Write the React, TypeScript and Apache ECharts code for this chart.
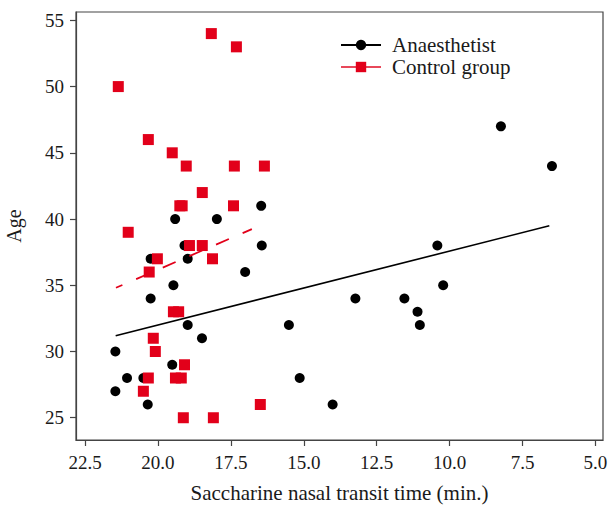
import React, { useEffect, useRef } from "react";
import * as echarts from "echarts";

// Anaesthetist group: [transit time (min.), age]
const anaesthetistX = [21.46, 21.46, 21.06, 20.5, 20.35, 20.25, 20.25, 19.47, 19.41, 19.51, 19.09, 18.98, 18.98, 18.49, 17.98, 17.01, 16.46, 16.44, 15.51, 15.14, 14.01, 13.23, 11.55, 11.1, 11.02, 10.42, 10.22, 8.24, 6.49];
const anaesthetistY = [30, 27, 28, 28, 26, 34, 37, 35, 40, 29, 38, 37, 32, 31, 40, 36, 41, 38, 32, 28, 26, 34, 34, 33, 32, 38, 35, 47, 44];

// Control group
const controlX = [18.17, 17.31, 21.36, 20.33, 19.51, 19.03, 17.38, 16.35, 18.48, 19.25, 19.17, 17.41, 21.02, 18.92, 18.48, 20.02, 18.13, 20.3, 19.47, 19.29, 20.16, 20.09, 19.09, 20.33, 19.4, 19.2, 20.5, 16.49, 19.13, 18.1];
const controlY = [54, 53, 50, 46, 45, 44, 44, 44, 42, 41, 41, 41, 39, 38, 38, 37, 37, 36, 33, 33, 31, 30, 29, 28, 28, 28, 27, 26, 25, 25];

// Fitted lines (end points)
const anaesthetistFitX = [21.45, 6.58];
const anaesthetistFitY = [31.19, 39.49];
const controlFitX = [21.44, 16.78];
const controlFitY = [34.81, 39.24];

const xTicks = [22.5, 20.0, 17.5, 15.0, 12.5, 10.0, 7.5, 5.0];
const yTicks = [25, 30, 35, 40, 45, 50, 55];

const SERIES_A = "Anaesthetist";
const SERIES_C = "Control group";

const RED = "#E2001A";
const FONT = "'Liberation Serif', 'Times New Roman', serif";
const AXIS_COLOR = "#444444";
const TEXT_COLOR = "#1a1a1a";

const zip = (xs: number[], ys: number[]) => xs.map((x, i) => [x, ys[i]]);

export default function App() {
  const ref = useRef<HTMLDivElement>(null);

  useEffect(() => {
    if (!ref.current) return;
    const chart = echarts.init(ref.current, undefined, { renderer: "svg" });
    chart.setOption({
      animation: false,
      backgroundColor: "#ffffff",
      textStyle: { fontFamily: FONT },
      grid: {
        left: 76,
        top: 12,
        right: 6,
        bottom: 66,
        containLabel: false,
        outerBoundsMode: "none",
        show: true,
        borderColor: AXIS_COLOR,
        borderWidth: 1.2,
      },
      legend: {
        orient: "vertical",
        left: 340,
        top: 34,
        padding: 0,
        itemGap: 0,
        itemWidth: 40,
        itemHeight: 13,
        selectedMode: false,
        textStyle: {
          fontFamily: FONT,
          fontSize: 21,
          color: TEXT_COLOR,
          lineHeight: 22,
          padding: [0, 0, 0, 6],
        },
        data: [
          { name: SERIES_A },
          { name: SERIES_C, lineStyle: { type: "solid", color: "#E8485A", width: 2 } },
        ],
      },
      xAxis: {
        type: "value",
        inverse: true,
        min: 4.74,
        max: 22.81,
        name: "Saccharine nasal transit time (min.)",
        nameLocation: "middle",
        nameGap: 42,
        nameTextStyle: { fontFamily: FONT, fontSize: 21, color: TEXT_COLOR },
        splitLine: { show: false },
        axisLine: { show: true, onZero: false, lineStyle: { color: AXIS_COLOR, width: 1.2 } },
        axisTick: {
          show: true,
          length: 6,
          customValues: xTicks,
          lineStyle: { color: AXIS_COLOR, width: 1.2 },
        },
        axisLabel: {
          customValues: xTicks,
          margin: 13,
          fontFamily: FONT,
          fontSize: 19,
          color: TEXT_COLOR,
          formatter: (v: number) => v.toFixed(1),
        },
      },
      yAxis: {
        type: "value",
        min: 23.32,
        max: 55.63,
        name: "Age",
        nameLocation: "middle",
        nameGap: 52,
        nameTextStyle: { fontFamily: FONT, fontSize: 20, color: TEXT_COLOR },
        splitLine: { show: false },
        axisLine: { show: true, onZero: false, lineStyle: { color: AXIS_COLOR, width: 1.2 } },
        axisTick: {
          show: true,
          length: 6,
          customValues: yTicks,
          lineStyle: { color: AXIS_COLOR, width: 1.2 },
        },
        axisLabel: {
          customValues: yTicks,
          margin: 12,
          fontFamily: FONT,
          fontSize: 19,
          color: TEXT_COLOR,
        },
      },
      series: [
        {
          name: SERIES_A,
          type: "line",
          symbol: "circle",
          symbolSize: 10,
          showSymbol: false,
          itemStyle: { color: "#000000" },
          lineStyle: { color: "#000000", width: 1.6 },
          data: zip(anaesthetistFitX, anaesthetistFitY),
          z: 3,
        },
        {
          name: SERIES_C,
          type: "line",
          symbol: "rect",
          symbolSize: 11,
          showSymbol: false,
          itemStyle: { color: RED },
          lineStyle: { color: RED, width: 1.8, type: [14, 15], dashOffset: 7 },
          data: zip(controlFitX, controlFitY),
          z: 3,
        },
        {
          name: SERIES_A,
          type: "scatter",
          symbol: "circle",
          symbolSize: 10,
          itemStyle: { color: "#000000", opacity: 1 },
          data: zip(anaesthetistX, anaesthetistY),
          z: 2,
        },
        {
          name: SERIES_C,
          type: "scatter",
          symbol: "rect",
          symbolSize: 11,
          itemStyle: { color: RED, opacity: 1 },
          data: zip(controlX, controlY),
          z: 2,
        },
      ],
    });
    return () => chart.dispose();
  }, []);

  return (
    <div
      ref={ref}
      style={{ position: "fixed", left: 0, top: 0, width: 609, height: 506, background: "#fff" }}
    />
  );
}
